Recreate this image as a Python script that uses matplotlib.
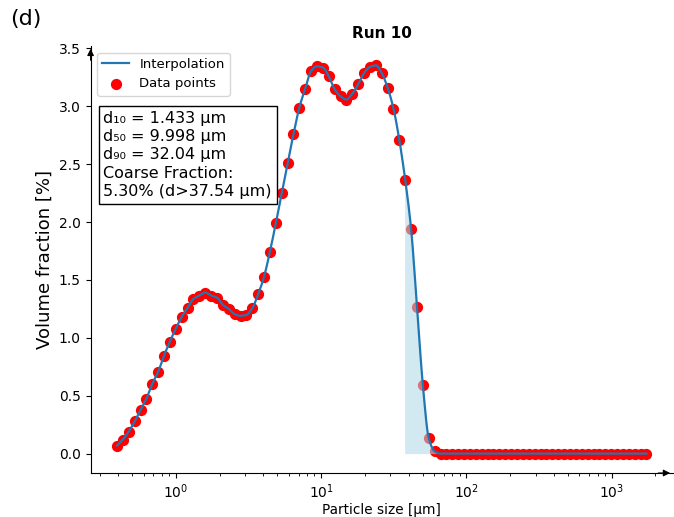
# IMPORT LIBRARY
import numpy as np
import matplotlib.pyplot as plt

# DATA
size_um = [0.394, 0.432, 0.474, 0.521, 0.572, 0.627, 0.689, 0.756, 0.830, 0.911,
           1.000, 1.098, 1.205, 1.323, 1.452, 1.594, 1.750, 1.921, 2.109, 2.315,
           2.541, 2.789, 3.062, 3.361, 3.690, 4.051, 4.446, 4.881, 5.358, 5.882,
           6.457, 7.088, 7.780, 8.541, 9.376, 10.29, 11.30, 12.40, 13.61, 14.94,
           16.41, 18.01, 19.77, 21.70, 23.82, 26.15, 28.71, 31.51, 34.59, 37.98,
           41.69, 45.76, 50.23, 55.14, 60.53, 66.45, 72.95, 80.08, 87.90, 96.49,
           105.9, 116.3, 127.6, 140.1, 153.8, 168.8, 185.4, 203.5, 223.4, 245.2,
           269.2, 295.5, 324.3, 356.1, 390.8, 429.0, 471.0, 517.0, 567.5, 623.0,
           683.9, 750.8, 824.1, 904.7, 993.1, 1090, 1197, 1314, 1442, 1583, 1738]

volume_pct = [0.069, 0.121, 0.190, 0.278, 0.379, 0.474, 0.603, 0.707, 0.847, 0.968,
              1.080, 1.181, 1.259, 1.336, 1.365, 1.391, 1.365, 1.347, 1.284, 1.250,
              1.204, 1.190, 1.198, 1.256, 1.377, 1.528, 1.744, 1.989, 2.247, 2.506,
              2.759, 2.989, 3.153, 3.304, 3.345, 3.334, 3.259, 3.147, 3.086, 3.058,
              3.109, 3.190, 3.287, 3.339, 3.353, 3.287, 3.161, 2.980, 2.707, 2.362,
              1.938, 1.267, 0.589, 0.132, 0.020, 0.0, 0.0, 0.0, 0.0, 0.0,
              0.0, 0.0, 0.0, 0.0, 0.0, 0.0, 0.0, 0.0, 0.0, 0.0,
              0.0, 0.0, 0.0, 0.0, 0.0, 0.0, 0.0, 0.0, 0.0, 0.0,
              0.0, 0.0, 0.0, 0.0, 0.0, 0.0, 0.0, 0.0, 0.0, 0.0, 0.0]

d10, d50, d90 = 1.433, 9.998, 32.04
coarse_cut = 37.54
coarse_frac = 5.30
run_name = "Run 10"


# MONOTONE CUBIC (PCHIP) IN LOG-X
def pchip(x, y, xn):
    x = np.asarray(x, float)
    y = np.asarray(y, float)
    h = np.diff(x)
    delta = np.diff(y) / h
    n = len(x)
    d = np.zeros(n)
    for k in range(1, n - 1):
        if delta[k - 1] * delta[k] > 0:
            w1 = 2 * h[k] + h[k - 1]
            w2 = h[k] + 2 * h[k - 1]
            d[k] = (w1 + w2) / (w1 / delta[k - 1] + w2 / delta[k])
    d[0] = delta[0]
    d[-1] = delta[-1]
    idx = np.clip(np.searchsorted(x, xn) - 1, 0, n - 2)
    t = (xn - x[idx]) / h[idx]
    h00 = 2 * t**3 - 3 * t**2 + 1
    h10 = t**3 - 2 * t**2 + t
    h01 = -2 * t**3 + 3 * t**2
    h11 = t**3 - t**2
    return (h00 * y[idx] + h10 * h[idx] * d[idx]
            + h01 * y[idx + 1] + h11 * h[idx] * d[idx + 1])


logx = np.log10(size_um)
xs_log = np.linspace(logx[0], logx[-1], 2000)
ys = pchip(logx, volume_pct, xs_log)
xs = 10**xs_log

# PLOT
fig = plt.figure(figsize=(6.74, 5.17), dpi=100)
ax = fig.add_axes([0.1344, 0.0851, 0.864, 0.826])

pts = ax.scatter(size_um, volume_pct, color='red', s=50, zorder=2, label='Data points')
mask = xs >= coarse_cut
ax.fill_between(xs[mask], 0, ys[mask], color='lightblue', alpha=0.55, zorder=3, lw=0)
line, = ax.plot(xs, ys, color='#1f77b4', lw=1.6, zorder=4, label='Interpolation')

ax.set_xscale('log')
ax.set_yticks(np.arange(0, 3.51, 0.5))
ax.set_xlabel('Particle size [μm]', fontsize=9.8, labelpad=1)
ax.set_ylabel('Volume fraction [%]', fontsize=13)
ax.set_title(run_name, fontweight='bold', fontsize=11)

ax.spines['top'].set_visible(False)
ax.spines['right'].set_visible(False)
ax.annotate('', xy=(1.0, 0), xytext=(0.97, 0), xycoords='axes fraction',
            arrowprops=dict(arrowstyle='-|>', color='k', lw=0.8, mutation_scale=10))
ax.annotate('', xy=(0, 1.0), xytext=(0, 0.96), xycoords='axes fraction',
            arrowprops=dict(arrowstyle='-|>', color='k', lw=0.8, mutation_scale=10))

ax.legend(handles=[line, pts], loc='upper left', fontsize=9.5)

info = (f"d\u2081\u2080 = {d10:.3f} μm\n"
        f"d\u2085\u2080 = {d50:.3f} μm\n"
        f"d\u2089\u2080 = {d90:.2f} μm\n"
        f"Coarse Fraction:\n"
        f"{coarse_frac:.2f}% (d>{coarse_cut:.2f} μm)")
ax.text(0.022, 0.848, info, transform=ax.transAxes, fontsize=11.5, va='top', ha='left',
        linespacing=1.27,
        bbox=dict(boxstyle='square,pad=0.3', fc='white', ec='black'))

fig.text(0.015, 0.952, '(d)', fontsize=16)

plt.savefig('out.png', dpi=100)
